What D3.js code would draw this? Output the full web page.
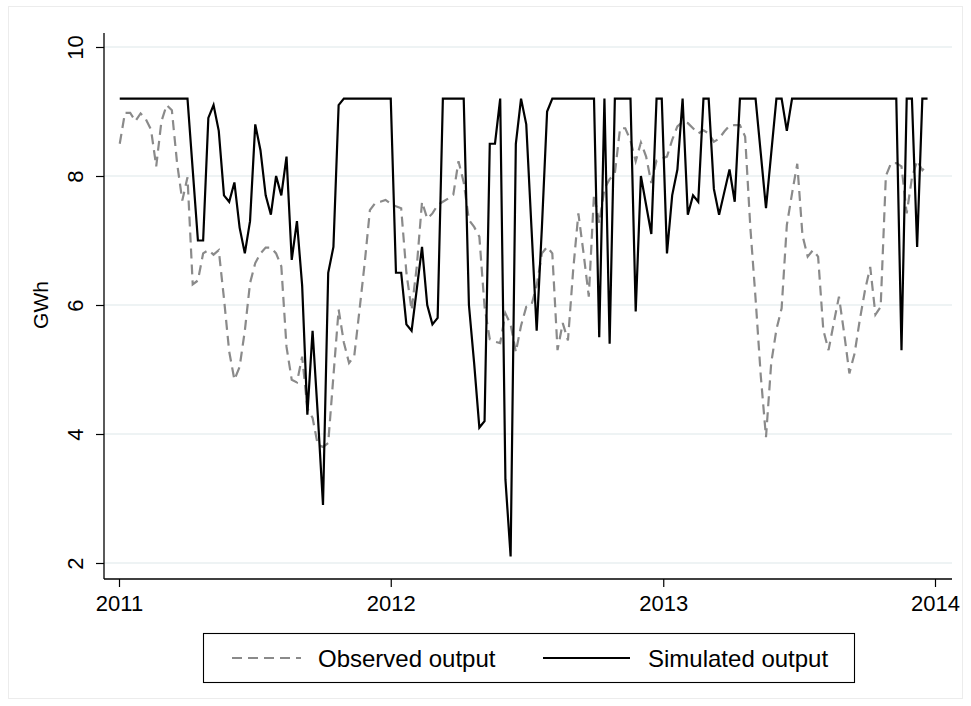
<!DOCTYPE html>
<html>
<head>
<meta charset="utf-8">
<script src="https://cdn.jsdelivr.net/npm/d3@7"></script>
<style>
  body { margin: 0; background: #fff; }
  svg { display: block; }
  text { font-family: "Liberation Sans", Arial, Helvetica, sans-serif; fill: #000; }
</style>
</head>
<body>
<svg id="chart" width="971" height="706"></svg>
<script>
// Weekly output, GWh (one value per week, first week starting 2 Jan 2011)
const firstWeek = Date.UTC(2011, 0, 2);
const afterLastWeek = Date.UTC(2013, 11, 23);

const observed = [
  8.5, 8.98, 8.98, 8.85, 8.97, 8.88, 8.72, 8.15, 8.85, 9.1,
  9.02, 8.2, 7.62, 7.98, 6.32, 6.38, 6.8, 6.85, 6.78, 6.85,
  6.1, 5.28, 4.84, 5.04, 5.6, 6.34, 6.65, 6.8, 6.89, 6.89,
  6.8, 6.6, 5.35, 4.84, 4.8, 5.2, 4.4, 4.25, 3.83, 3.8,
  3.86, 4.9, 5.93, 5.42, 5.1, 5.21, 5.92, 6.65, 7.47, 7.58,
  7.6, 7.63, 7.57, 7.53, 7.5, 6.5, 5.92, 6.6, 7.6, 7.34,
  7.42, 7.55, 7.6, 7.65, 7.71, 8.23, 7.9, 7.32, 7.21, 7.06,
  5.97, 5.47, 5.43, 5.41, 5.87, 5.7, 5.27, 5.68, 5.97, 6.0,
  6.3, 6.8, 6.9, 6.8, 5.3, 5.72, 5.45, 6.54, 7.42, 6.8,
  6.13, 7.72, 7.27, 7.8, 7.95, 8.04, 8.74, 8.74, 8.55, 8.23,
  8.52, 8.3, 7.89, 8.24, 8.27, 8.3, 8.56, 8.77, 8.84, 8.82,
  8.74, 8.66, 8.71, 8.66, 8.53, 8.58, 8.69, 8.78, 8.79, 8.79,
  8.61, 7.2, 6.1, 4.9, 3.95, 5.1, 5.62, 5.95, 7.24, 7.73,
  8.19, 7.08, 6.75, 6.85, 6.75, 5.61, 5.3, 5.72, 6.13, 5.56,
  4.94, 5.25, 5.77, 6.23, 6.59, 5.85, 5.97, 8.0, 8.2, 8.2,
  8.15, 7.42, 7.97, 8.24, 8.09, 8.17
];

const simulated = [
  9.2, 9.2, 9.2, 9.2, 9.2, 9.2, 9.2, 9.2, 9.2, 9.2,
  9.2, 9.2, 9.2, 9.2, 8.1, 7.0, 7.0, 8.9, 9.1, 8.7,
  7.7, 7.6, 7.9, 7.2, 6.8, 7.3, 8.8, 8.4, 7.7, 7.4,
  8.0, 7.7, 8.3, 6.7, 7.3, 6.3, 4.3, 5.6, 4.3, 2.9,
  6.5, 6.9, 9.1, 9.2, 9.2, 9.2, 9.2, 9.2, 9.2, 9.2,
  9.2, 9.2, 9.2, 6.5, 6.5, 5.7, 5.6, 6.25, 6.9, 6.0,
  5.7, 5.8, 9.2, 9.2, 9.2, 9.2, 9.2, 6.0, 5.1, 4.1,
  4.2, 8.5, 8.5, 9.2, 3.3, 2.1, 8.5, 9.2, 8.8, 7.2,
  5.6, 7.2, 9.0, 9.2, 9.2, 9.2, 9.2, 9.2, 9.2, 9.2,
  9.2, 9.2, 5.5, 9.2, 5.4, 9.2, 9.2, 9.2, 9.2, 5.9,
  8.0, 7.55, 7.1, 9.2, 9.2, 6.8, 7.7, 8.1, 9.2, 7.4,
  7.7, 7.6, 9.2, 9.2, 7.8, 7.4, 7.75, 8.1, 7.6, 9.2,
  9.2, 9.2, 9.2, 8.35, 7.5, 8.35, 9.2, 9.2, 8.7, 9.2,
  9.2, 9.2, 9.2, 9.2, 9.2, 9.2, 9.2, 9.2, 9.2, 9.2,
  9.2, 9.2, 9.2, 9.2, 9.2, 9.2, 9.2, 9.2, 9.2, 9.2,
  5.3, 9.2, 9.2, 6.9, 9.2, 9.2
];

const yTicks = [2, 4, 6, 8, 10];
const xTickYears = [2011, 2012, 2013, 2014];
const seriesNames = ["Observed output", "Simulated output"];
const yTitle = "GWh";

const weeks = d3.utcSunday.range(new Date(firstWeek), new Date(afterLastWeek));

const svg = d3.select("#chart");

// faint outer frame of the graph region
svg.append("rect")
  .attr("x", 8.5).attr("y", 6.5)
  .attr("width", 954).attr("height", 692)
  .attr("fill", "none").attr("stroke", "#ececec").attr("stroke-width", 1);

const plot = { left: 104, right: 952, top: 33, bottom: 579 };

const x = d3.scaleUtc()
  .domain([new Date(Date.UTC(2011, 0, 1)), new Date(Date.UTC(2014, 0, 1))])
  .range([119, 935]);
const y = d3.scaleLinear().domain([2, 10]).range([563, 47]);

// horizontal grid
svg.append("g").selectAll("line").data(yTicks).join("line")
  .attr("x1", plot.left).attr("x2", plot.right)
  .attr("y1", d => y(d)).attr("y2", d => y(d))
  .attr("stroke", "#e8eff1").attr("stroke-width", 1.6);

// y axis
const gy = svg.append("g").attr("transform", `translate(${plot.left},0)`)
  .call(d3.axisLeft(y).tickValues(yTicks).tickSize(8).tickFormat(d3.format("d")));
gy.select(".domain").remove();
gy.selectAll(".tick line").attr("stroke", "#000").attr("stroke-width", 1.2);
gy.selectAll(".tick text")
  .attr("x", 0).attr("y", 0).attr("dy", 0)
  .attr("text-anchor", "middle")
  .attr("transform", "translate(-21,0) rotate(-90)")
  .style("font-size", "22px")
  .style("font-family", "'Liberation Sans', Arial, sans-serif");
svg.append("line")
  .attr("x1", plot.left).attr("x2", plot.left)
  .attr("y1", plot.top).attr("y2", plot.bottom)
  .attr("stroke", "#000").attr("stroke-width", 1.3);

// x axis
const gx = svg.append("g").attr("transform", `translate(0,${plot.bottom})`)
  .call(d3.axisBottom(x)
    .tickValues(xTickYears.map(yr => new Date(Date.UTC(yr, 0, 1))))
    .tickSize(8).tickPadding(8)
    .tickFormat(d3.utcFormat("%Y")));
gx.select(".domain").remove();
gx.selectAll(".tick line").attr("stroke", "#000").attr("stroke-width", 1.2);
gx.selectAll(".tick text")
  .style("font-size", "22px")
  .style("font-family", "'Liberation Sans', Arial, sans-serif");
svg.append("line")
  .attr("x1", plot.left).attr("x2", plot.right)
  .attr("y1", plot.bottom).attr("y2", plot.bottom)
  .attr("stroke", "#000").attr("stroke-width", 1.3);

// y axis title
svg.append("text")
  .attr("transform", `translate(48,${(y(2) + y(10)) / 2}) rotate(-90)`)
  .attr("text-anchor", "middle")
  .style("font-size", "21px")
  .text(yTitle);

// series lines
const line = d3.line()
  .x((d, i) => x(weeks[i]))
  .y(d => y(d));

svg.append("path")
  .datum(observed)
  .attr("d", line)
  .attr("fill", "none")
  .attr("stroke", "#8a8a8a")
  .attr("stroke-width", 2.2)
  .attr("stroke-dasharray", "10,6");

svg.append("path")
  .datum(simulated)
  .attr("d", line)
  .attr("fill", "none")
  .attr("stroke", "#000")
  .attr("stroke-width", 2.2)
  .attr("stroke-linejoin", "miter");

// legend
const legend = svg.append("g");
legend.append("rect")
  .attr("x", 203.5).attr("y", 633.5).attr("width", 651).attr("height", 49)
  .attr("fill", "#fff").attr("stroke", "#000").attr("stroke-width", 1.1);

const legendItems = [
  { name: seriesNames[0], x0: 232, x1: 301, tx: 318, color: "#8a8a8a", dash: "10,6" },
  { name: seriesNames[1], x0: 543, x1: 630, tx: 648, color: "#000", dash: null }
];
const li = legend.selectAll("g.item").data(legendItems).join("g").attr("class", "item");
li.append("line")
  .attr("x1", d => d.x0).attr("x2", d => d.x1)
  .attr("y1", 658).attr("y2", 658)
  .attr("stroke", d => d.color).attr("stroke-width", 2.2)
  .attr("stroke-dasharray", d => d.dash);
li.append("text")
  .attr("x", d => d.tx).attr("y", 667)
  .style("font-size", "24px")
  .text(d => d.name);
</script>
</body>
</html>
